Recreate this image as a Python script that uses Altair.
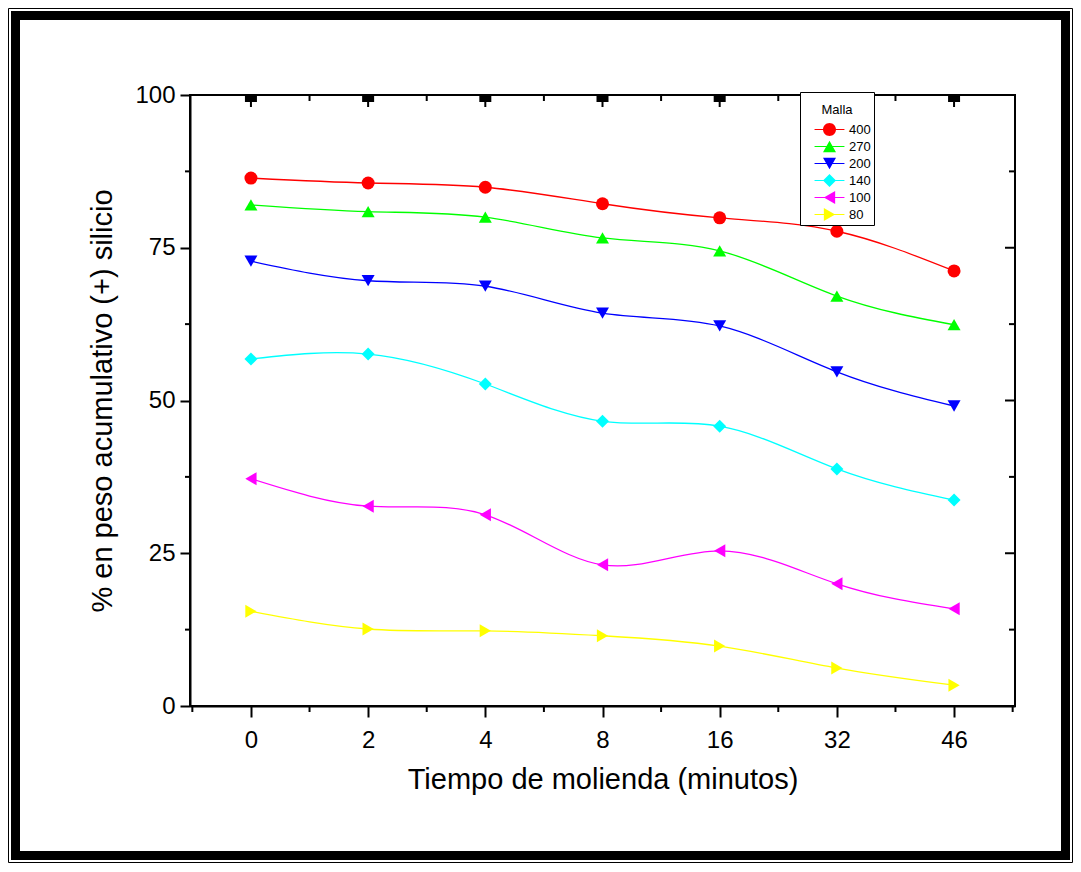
import altair as alt
import pandas as pd

# ---- data ----
tiempo = ["0", "2", "4", "8", "16", "32", "46"]
mallas = ["400", "270", "200", "140", "100", "80"]
v400 = [86.4, 85.6, 84.9, 82.2, 79.9, 77.7, 71.2]
v270 = [82.0, 80.9, 80.0, 76.6, 74.5, 67.1, 62.4]
v200 = [72.8, 69.6, 68.7, 64.3, 62.2, 54.7, 49.1]
v140 = [56.8, 57.6, 52.7, 46.6, 45.8, 38.8, 33.7]
v100 = [37.2, 32.7, 31.3, 23.1, 25.4, 20.0, 15.9]
v80 = [15.5, 12.6, 12.3, 11.5, 9.8, 6.2, 3.4]
y_ticks = [0, 25, 50, 75, 100]
y_minor = [12.5, 37.5, 62.5, 87.5]
x_major = list(range(len(tiempo)))
x_minor = [-0.5, 0.5, 1.5, 2.5, 3.5, 4.5, 5.5, 6.5]

colors = ["#ff0000", "#00ff00", "#0000ff", "#00ffff", "#ff00ff", "#ffff00"]
shapes = ["circle", "triangle-up", "triangle-down", "diamond", "triangle-left", "triangle-right"]
bar = "M-2.3,-0.08H2.3V0.08H-2.3Z"
legend_shapes = [
    bar + "M1,0A1,1 0 1,1 -1,0A1,1 0 1,1 1,0Z",
    bar + "M0,-0.87L1,0.87L-1,0.87Z",
    bar + "M-1,-0.87L1,-0.87L0,0.87Z",
    bar + "M0,-1L1,0L0,1L-1,0Z",
    bar + "M-0.87,0L0.87,-1L0.87,1Z",
    bar + "M0.87,0L-0.87,1L-0.87,-1Z",
]

series = [v400, v270, v200, v140, v100, v80]
rows = []
for m, vals in zip(mallas, series):
    for i, (t, v) in enumerate(zip(tiempo, vals)):
        rows.append({"idx": i, "tiempo": t, "malla": m, "valor": v})
df = pd.DataFrame(rows)

FONT = "Liberation Sans"
W, H = 825, 611

xscale = alt.Scale(domain=[-0.52, 6.52], nice=False, zero=False)
yscale = alt.Scale(domain=[0, 100], nice=False, zero=False)

label_expr = "[" + ",".join("'%s'" % t for t in tiempo) + "][datum.value]"

x_axis = alt.Axis(
    values=x_major, labelExpr=label_expr, title="Tiempo de molienda (minutos)",
    tickSize=11, tickWidth=2, tickColor="black", domainColor="black", domainWidth=2,
    labelFontSize=24, titleFontSize=29, labelFont=FONT, titleFont=FONT,
    titleFontWeight="normal", labelColor="black", titleColor="black",
    labelPadding=11, titlePadding=13, grid=False,
)
y_axis = alt.Axis(
    values=y_ticks, title="% en peso acumulativo (+) silicio",
    tickSize=10, tickWidth=2, tickColor="black", domainColor="black", domainWidth=2,
    labelFontSize=24, titleFontSize=29, labelFont=FONT, titleFont=FONT,
    titleFontWeight="normal", labelColor="black", titleColor="black",
    labelPadding=5, titlePadding=17, grid=False,
)

one = alt.Data(values=[{"k": 1}])

# outer decorative frame
frame_thin = alt.Chart(one).mark_rect(fill="transparent", stroke="black", strokeWidth=1).encode(
    x=alt.value(-181.5), x2=alt.value(882.5), y=alt.value(-86.5), y2=alt.value(767.5)
)
frame_thick = alt.Chart(one).mark_rect(fill="transparent", stroke="black", strokeWidth=9).encode(
    x=alt.value(-174.5), x2=alt.value(875.5), y=alt.value(-79.5), y2=alt.value(760.5)
)

color_scale = alt.Scale(domain=mallas, range=colors)

lines = alt.Chart(df).mark_line(interpolate="natural", strokeWidth=1.3).encode(
    x=alt.X("idx:Q", scale=xscale, axis=x_axis),
    y=alt.Y("valor:Q", scale=yscale, axis=y_axis),
    color=alt.Color("malla:N", scale=color_scale, legend=None),
    detail="malla:N",
)

points = alt.Chart(df).mark_point(filled=True, size=169, opacity=1).encode(
    x=alt.X("idx:Q", scale=xscale, axis=x_axis),
    y=alt.Y("valor:Q", scale=yscale, axis=y_axis),
    color=alt.Color("malla:N", scale=color_scale, legend=None),
    shape=alt.Shape("malla:N", scale=alt.Scale(domain=mallas, range=shapes), legend=None),
)

leg = alt.Legend(
    title=["", "Malla"], orient="none", legendX=610, legendY=-3,
    titleFontSize=13, titleFont=FONT, titleFontWeight="normal", titleColor="black",
    titleLineHeight=9,
    labelFontSize=13, labelFont=FONT, labelColor="black",
    symbolSize=169, symbolOffset=19, labelOffset=12, padding=3,
    titlePadding=5, rowPadding=2, titleAnchor="middle",
    strokeColor="black", fillColor="white",
)

legend_layer = alt.Chart(df).transform_filter("datum.valor < -1000").mark_point(
    filled=True, size=169, opacity=1
).encode(
    x=alt.X("idx:Q", scale=xscale, axis=x_axis),
    y=alt.Y("valor:Q", scale=yscale, axis=y_axis),
    color=alt.Color("malla:N", scale=color_scale, legend=leg),
    shape=alt.Shape("malla:N", scale=alt.Scale(domain=mallas, range=legend_shapes), legend=leg),
)

ym = pd.DataFrame({"v": y_minor})
yM = pd.DataFrame({"v": y_ticks})
xm = pd.DataFrame({"v": x_minor})
xM = pd.DataFrame({"v": x_major})
xm_in = pd.DataFrame({"v": x_minor[1:-1]})

def yrule(data, x0, x1, sw=2):
    return alt.Chart(data).mark_rule(color="black", strokeWidth=sw).encode(
        y=alt.Y("v:Q", scale=yscale, axis=y_axis), x=alt.value(x0), x2=alt.value(x1)
    )

def xrule(data, y0, y1, sw=2):
    return alt.Chart(data).mark_rule(color="black", strokeWidth=sw).encode(
        x=alt.X("v:Q", scale=xscale, axis=x_axis), y=alt.value(y0), y2=alt.value(y1)
    )

decor = [
    yrule(ym, -5, 0),            # left minor ticks (outward)
    yrule(ym, W - 6, W),         # right minor ticks (inward)
    yrule(yM, W - 10, W),        # right major ticks (inward)
    xrule(xm, H, H + 6),         # bottom minor ticks (outward)
    xrule(xm_in, 0, 6),          # top minor ticks (inward)
    xrule(xM, 0, 7, 12),         # top major blocks
    xrule(xM, 0, 12, 2),         # top major ticks
]

chart = alt.layer(
    frame_thin, frame_thick, *decor, lines, points, legend_layer
).resolve_scale(
    color="independent", shape="independent"
).properties(
    width=W, height=H, padding=0
).configure_view(
    stroke="black", strokeWidth=2
)

chart.save("out.html", embed_options={"renderer": "svg", "actions": False})
